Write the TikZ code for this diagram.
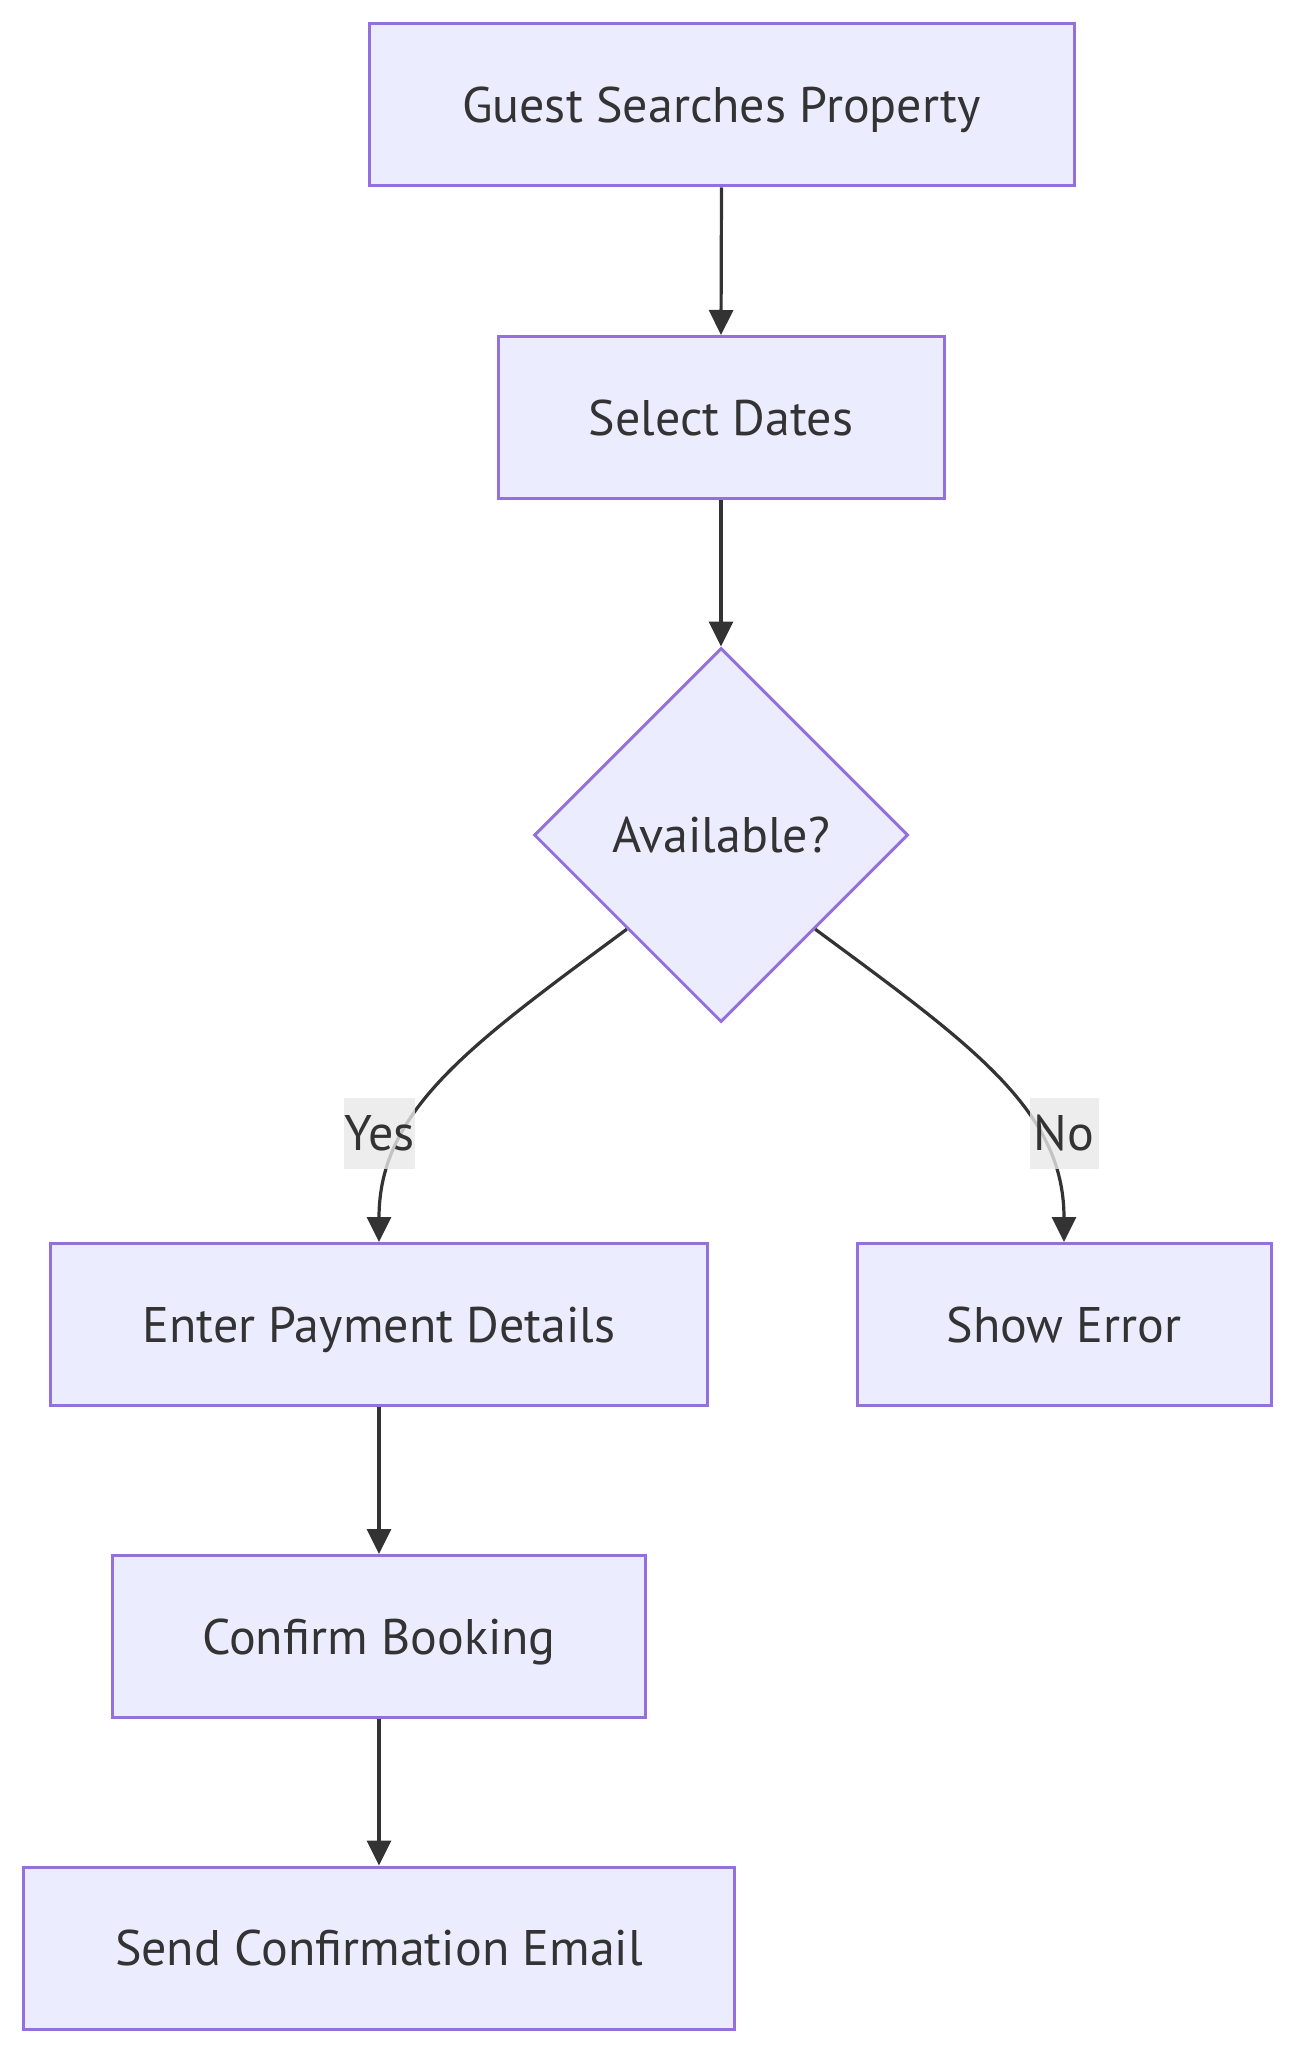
\documentclass[tikz,border=0pt]{standalone}
\usepackage{fontspec}
\setmainfont{PT Sans}
\usetikzlibrary{shapes.geometric,arrows.meta}
\definecolor{boxfill}{HTML}{ECECFF}
\definecolor{boxline}{HTML}{9370DB}
\definecolor{ink}{HTML}{333333}
\definecolor{labelbg}{HTML}{E8E8E8}
\tikzset{
  txt/.style={text=ink, font=\fontsize{25}{29}\selectfont, text height=17.5pt, text depth=0pt},
  stepbox/.style={txt, draw=boxline, fill=boxfill, line width=1.5pt, minimum height=81pt, inner sep=0pt},
  decision/.style={txt, diamond, aspect=1, draw=boxline, fill=boxfill, line width=1.5pt, minimum width=187pt, minimum height=187pt, inner sep=0pt},
  flow/.style={draw=ink, line width=1.6pt, -{Triangle[length=12.5pt,width=12pt]}},
  edgelabel/.style={txt, fill=labelbg, fill opacity=0.8, text opacity=1, inner sep=0pt, minimum width=34.5pt, minimum height=35.5pt}
}
\begin{document}
\begin{tikzpicture}[x=0.5pt,y=-0.5pt]
\useasboundingbox (0,0) rectangle (1294,2054);
\node[stepbox, minimum width=352.5pt] (guest) at (721.5,105) {Guest Searches Property};
\node[stepbox, minimum width=223pt] (dates) at (721,417.5) {Select Dates};
\node[decision] (avail) at (721,835) {Available?};
\node[stepbox, minimum width=328.5pt] (pay) at (379,1324.5) {Enter Payment Details};
\node[stepbox, minimum width=207pt] (err) at (1064,1324.5) {Show Error};
\node[stepbox, minimum width=266.5pt] (conf) at (379,1636.5) {Confirm Booking};
\node[stepbox, minimum width=355.5pt] (mail) at (379,1948) {Send Confirmation Email};
\draw[flow] (guest.south) -- (dates.north);
\draw[flow] (dates.south) -- (avail.north);
\draw[flow] (avail.south west) .. controls (470,1045) and (379,1110) .. (pay.north);
\draw[flow] (avail.south east) .. controls (972,1045) and (1064,1110) .. (err.north);
\draw[flow] (pay.south) -- (conf.north);
\draw[flow] (conf.south) -- (mail.north);
\node[edgelabel] (yes) at (379.5,1133) {Yes};
\node[edgelabel] (no) at (1064,1133) {No};
\end{tikzpicture}
\end{document}
